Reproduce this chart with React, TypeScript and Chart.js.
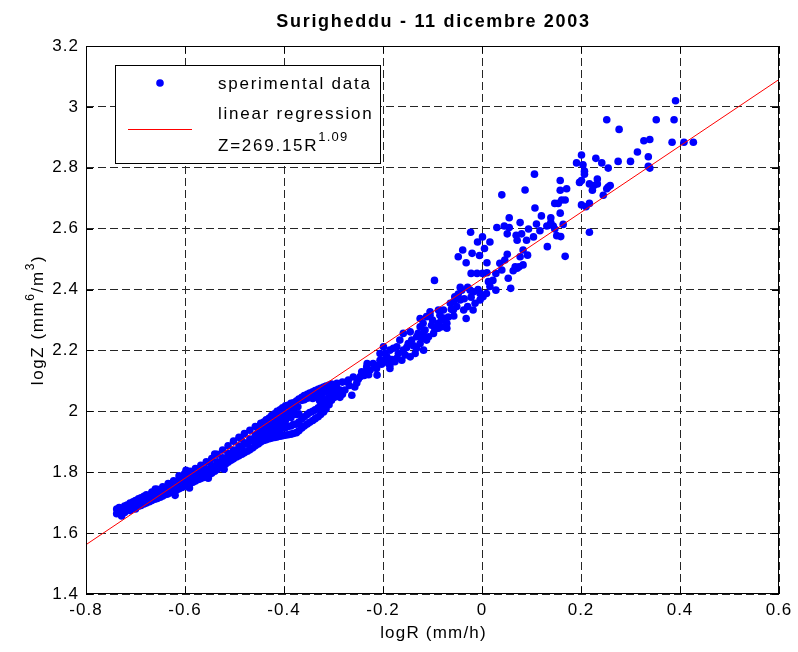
import React, { useEffect, useRef } from "react";
import { Chart, registerables } from "chart.js";

Chart.register(...registerables);

const TITLE = "Surigheddu - 11 dicembre 2003";
const X_LABEL = "logR (mm/h)";
const Y_LABEL_PARTS: [string, boolean][] = [
  ["logZ (mm", false],
  ["6", true],
  ["/m", false],
  ["3", true],
  [")", false],
];
const LEGEND_DATA = "sperimental data";
const LEGEND_REG = "linear regression";
const LEGEND_EQ = "Z=269.15R";
const LEGEND_EQ_EXP = "1.09";

const xTicks = [-0.8, -0.6, -0.4, -0.2, 0, 0.2, 0.4, 0.6];
const yTicks = [1.4, 1.6, 1.8, 2.0, 2.2, 2.4, 2.6, 2.8, 3.0, 3.2];

// [logR, logZ] — dense band at low rain rates
const band: [number, number][] = [
  [-0.738, 1.664], [-0.738, 1.679], [-0.733, 1.684], [-0.728, 1.656], [-0.728, 1.673],
  [-0.722, 1.668], [-0.722, 1.689], [-0.717, 1.678], [-0.717, 1.692], [-0.711, 1.674],
  [-0.711, 1.686], [-0.711, 1.699], [-0.705, 1.683], [-0.705, 1.703], [-0.7, 1.679],
  [-0.7, 1.692], [-0.7, 1.707], [-0.694, 1.688], [-0.694, 1.713], [-0.689, 1.691],
  [-0.689, 1.702], [-0.689, 1.716], [-0.683, 1.696], [-0.683, 1.721], [-0.678, 1.699],
  [-0.678, 1.709], [-0.678, 1.726], [-0.672, 1.703], [-0.672, 1.718], [-0.667, 1.707],
  [-0.667, 1.723], [-0.667, 1.735], [-0.661, 1.711], [-0.661, 1.729], [-0.656, 1.714],
  [-0.656, 1.726], [-0.656, 1.744], [-0.65, 1.718], [-0.65, 1.738], [-0.645, 1.722],
  [-0.645, 1.735], [-0.645, 1.752], [-0.639, 1.727], [-0.639, 1.745], [-0.634, 1.729],
  [-0.634, 1.741], [-0.634, 1.763], [-0.628, 1.734], [-0.628, 1.754], [-0.623, 1.737],
  [-0.623, 1.749], [-0.623, 1.772], [-0.62, 1.724], [-0.617, 1.742], [-0.617, 1.762],
  [-0.612, 1.746], [-0.612, 1.77], [-0.612, 1.788], [-0.606, 1.75], [-0.606, 1.766],
  [-0.601, 1.754], [-0.601, 1.777], [-0.601, 1.795], [-0.595, 1.758], [-0.595, 1.771],
  [-0.59, 1.762], [-0.59, 1.785], [-0.59, 1.803], [-0.584, 1.767], [-0.584, 1.781],
  [-0.579, 1.771], [-0.579, 1.794], [-0.579, 1.812], [-0.573, 1.776], [-0.573, 1.79],
  [-0.568, 1.779], [-0.568, 1.802], [-0.568, 1.823], [-0.562, 1.783], [-0.562, 1.798],
  [-0.557, 1.788], [-0.557, 1.811], [-0.557, 1.834], [-0.551, 1.792], [-0.551, 1.806],
  [-0.546, 1.797], [-0.546, 1.822], [-0.546, 1.845], [-0.54, 1.803], [-0.54, 1.818],
  [-0.535, 1.809], [-0.535, 1.834], [-0.535, 1.859], [-0.529, 1.815], [-0.529, 1.829],
  [-0.524, 1.821], [-0.524, 1.847], [-0.524, 1.873], [-0.518, 1.827], [-0.518, 1.842],
  [-0.513, 1.833], [-0.513, 1.861], [-0.513, 1.887], [-0.507, 1.839], [-0.507, 1.856],
  [-0.502, 1.844], [-0.502, 1.873], [-0.502, 1.902], [-0.496, 1.85], [-0.496, 1.869],
  [-0.491, 1.854], [-0.491, 1.886], [-0.491, 1.915], [-0.485, 1.859], [-0.485, 1.881],
  [-0.48, 1.864], [-0.48, 1.897], [-0.48, 1.927], [-0.474, 1.869], [-0.474, 1.892],
  [-0.469, 1.874], [-0.469, 1.909], [-0.469, 1.938], [-0.463, 1.88], [-0.463, 1.903],
  [-0.458, 1.887], [-0.458, 1.921], [-0.458, 1.95], [-0.452, 1.893], [-0.452, 1.905],
  [-0.452, 1.915], [-0.452, 1.935], [-0.452, 1.95], [-0.447, 1.899], [-0.447, 1.918],
  [-0.447, 1.932], [-0.447, 1.961], [-0.441, 1.904], [-0.441, 1.92], [-0.441, 1.945],
  [-0.441, 1.965], [-0.436, 1.907], [-0.436, 1.925], [-0.436, 1.944], [-0.436, 1.972],
  [-0.43, 1.91], [-0.43, 1.928], [-0.43, 1.958], [-0.43, 1.978], [-0.425, 1.912],
  [-0.425, 1.933], [-0.425, 1.956], [-0.425, 1.986], [-0.419, 1.914], [-0.419, 1.932],
  [-0.419, 1.949], [-0.419, 1.97], [-0.419, 1.992], [-0.414, 1.916], [-0.414, 1.94],
  [-0.414, 1.967], [-0.414, 2.0], [-0.408, 1.918], [-0.408, 1.938], [-0.408, 1.96],
  [-0.408, 1.982], [-0.408, 2.005], [-0.403, 1.92], [-0.403, 1.945], [-0.403, 1.978],
  [-0.403, 2.012], [-0.397, 1.922], [-0.397, 1.946], [-0.397, 1.97], [-0.397, 1.995],
  [-0.397, 2.018], [-0.392, 1.923], [-0.392, 1.95], [-0.392, 1.988], [-0.392, 2.02],
  [-0.386, 1.925], [-0.386, 1.952], [-0.386, 1.98], [-0.386, 2.005], [-0.386, 2.026],
  [-0.381, 1.927], [-0.381, 1.957], [-0.381, 1.99], [-0.381, 2.028], [-0.375, 1.93],
  [-0.375, 1.958], [-0.375, 1.99], [-0.375, 2.034], [-0.37, 1.936], [-0.37, 1.965],
  [-0.37, 1.992], [-0.37, 2.04], [-0.364, 1.945], [-0.364, 1.975], [-0.364, 2.036],
  [-0.364, 2.046], [-0.359, 1.952], [-0.359, 1.982], [-0.359, 2.038], [-0.359, 2.052],
  [-0.353, 1.958], [-0.353, 1.99], [-0.353, 2.043], [-0.353, 2.056], [-0.348, 1.964],
  [-0.348, 1.996], [-0.348, 2.046], [-0.348, 2.06], [-0.342, 1.97], [-0.342, 2.0],
  [-0.342, 2.042], [-0.342, 2.064], [-0.337, 1.976], [-0.337, 2.005], [-0.337, 2.046],
  [-0.337, 2.068], [-0.331, 1.982], [-0.331, 2.012], [-0.331, 2.052], [-0.331, 2.072],
  [-0.326, 1.99], [-0.326, 2.018], [-0.326, 2.058], [-0.326, 2.076], [-0.32, 1.998],
  [-0.32, 2.026], [-0.32, 2.062], [-0.32, 2.08], [-0.315, 2.008], [-0.315, 2.034],
  [-0.315, 2.066], [-0.315, 2.083], [-0.309, 2.022], [-0.309, 2.045], [-0.309, 2.07],
  [-0.309, 2.086], [-0.304, 2.036], [-0.304, 2.055], [-0.304, 2.074], [-0.304, 2.09],
  [-0.298, 2.046], [-0.298, 2.064], [-0.298, 2.08], [-0.293, 2.052], [-0.293, 2.075],
  [-0.293, 2.092], [-0.287, 2.046], [-0.287, 2.07], [-0.282, 2.056], [-0.282, 2.096],
  [-0.591, 1.748], [-0.553, 1.78], [-0.521, 1.81], [-0.66, 1.745], [-0.598, 1.806],
  [-0.54, 1.86], [-0.487, 1.91], [-0.378, 2.012], [-0.372, 2.015], [-0.328, 2.035],
  [-0.322, 2.044], [-0.444, 1.952], [-0.433, 1.968], [-0.422, 1.942], [-0.411, 1.99],
  [-0.4, 1.96],
];

// [logR, logZ] — middle range, mostly below the regression line
const middle: [number, number][] = [
  [-0.294, 2.059], [-0.277, 2.07], [-0.273, 2.097], [-0.27, 2.103], [-0.268, 2.085],
  [-0.263, 2.053], [-0.26, 2.113], [-0.257, 2.08], [-0.253, 2.093], [-0.25, 2.105],
  [-0.246, 2.114], [-0.243, 2.13], [-0.238, 2.118], [-0.233, 2.146], [-0.233, 2.125],
  [-0.232, 2.157], [-0.229, 2.12], [-0.226, 2.136], [-0.22, 2.157], [-0.216, 2.15],
  [-0.213, 2.141], [-0.212, 2.119], [-0.206, 2.168], [-0.206, 2.19], [-0.203, 2.155],
  [-0.199, 2.212], [-0.199, 2.168], [-0.196, 2.19], [-0.192, 2.179], [-0.189, 2.157],
  [-0.186, 2.201], [-0.186, 2.152], [-0.186, 2.141], [-0.182, 2.17], [-0.179, 2.207],
  [-0.176, 2.163], [-0.172, 2.212], [-0.172, 2.174], [-0.169, 2.19], [-0.166, 2.234],
  [-0.162, 2.168], [-0.159, 2.201], [-0.159, 2.256], [-0.155, 2.185], [-0.152, 2.21],
  [-0.149, 2.223], [-0.145, 2.179], [-0.145, 2.261], [-0.142, 2.234], [-0.138, 2.215],
  [-0.135, 2.19], [-0.132, 2.207], [-0.132, 2.245], [-0.129, 2.256], [-0.125, 2.223],
  [-0.125, 2.278], [-0.125, 2.305], [-0.122, 2.24], [-0.118, 2.201], [-0.119, 2.256],
  [-0.119, 2.289], [-0.115, 2.267], [-0.112, 2.234], [-0.112, 2.311], [-0.108, 2.245],
  [-0.105, 2.327], [-0.105, 2.316], [-0.102, 2.283], [-0.1, 2.3], [-0.098, 2.256],
  [-0.096, 2.43], [-0.095, 2.27], [-0.092, 2.278], [-0.088, 2.273], [-0.088, 2.289],
  [-0.088, 2.333], [-0.085, 2.316], [-0.082, 2.3], [-0.081, 2.278], [-0.078, 2.333],
  [-0.078, 2.306], [-0.071, 2.273], [-0.071, 2.289], [-0.068, 2.31], [-0.064, 2.355],
  [-0.062, 2.335], [-0.058, 2.333], [-0.057, 2.36], [-0.057, 2.313], [-0.055, 2.376],
  [-0.051, 2.344], [-0.048, 2.385], [-0.044, 2.407], [-0.044, 2.366], [-0.041, 2.398],
  [-0.037, 2.333], [-0.036, 2.37], [-0.032, 2.305], [-0.029, 2.407], [-0.029, 2.344],
  [-0.024, 2.398], [-0.022, 2.375], [-0.018, 2.333], [-0.017, 2.393], [-0.014, 2.355],
  [-0.008, 2.4], [-0.004, 2.387], [-0.004, 2.366], [0.002, 2.376], [0.009, 2.387],
  [0.016, 2.41], [0.022, 2.43],
];

// [logR, logZ] — scattered above the line around logR = 0
const upper: [number, number][] = [
  [-0.048, 2.508], [-0.039, 2.53], [-0.032, 2.488], [-0.023, 2.588], [-0.022, 2.453],
  [-0.02, 2.519], [-0.01, 2.453], [-0.009, 2.556], [-0.005, 2.512], [0.001, 2.573],
  [0.001, 2.453], [0.005, 2.535], [0.01, 2.488], [0.01, 2.455], [0.013, 2.426],
  [0.016, 2.556], [0.028, 2.453], [0.028, 2.398], [0.03, 2.604], [0.036, 2.486],
  [0.04, 2.464], [0.04, 2.711], [0.045, 2.609], [0.046, 2.497], [0.051, 2.583],
  [0.051, 2.516], [0.053, 2.437], [0.055, 2.636], [0.055, 2.604], [0.058, 2.404],
  [0.063, 2.462], [0.067, 2.475], [0.069, 2.578], [0.071, 2.562], [0.071, 2.47],
  [0.075, 2.475], [0.077, 2.62], [0.077, 2.508], [0.08, 2.583], [0.083, 2.53],
  [0.083, 2.481], [0.087, 2.727], [0.09, 2.562], [0.092, 2.513], [0.094, 2.599],
  [0.104, 2.573], [0.106, 2.779], [0.107, 2.668], [0.11, 2.615], [0.117, 2.593],
  [0.12, 2.642], [0.131, 2.609], [0.132, 2.541], [0.139, 2.636], [0.144, 2.609],
  [0.168, 2.509],
];

// [logR, logZ] — highest rain rates
const top: [number, number][] = [
  [0.391, 3.02], [0.252, 2.958], [0.352, 2.958], [0.388, 2.958], [0.277, 2.926],
  [0.327, 2.889], [0.339, 2.893], [0.384, 2.884], [0.408, 2.884], [0.427, 2.884],
  [0.314, 2.852], [0.336, 2.836], [0.275, 2.821], [0.3, 2.821], [0.23, 2.831],
  [0.242, 2.816], [0.255, 2.799], [0.201, 2.842], [0.191, 2.816], [0.204, 2.81],
  [0.207, 2.789], [0.207, 2.779], [0.336, 2.805], [0.339, 2.799], [0.197, 2.752],
  [0.201, 2.758], [0.217, 2.747], [0.233, 2.763], [0.233, 2.747], [0.223, 2.726],
  [0.226, 2.742], [0.255, 2.737], [0.259, 2.742], [0.252, 2.731], [0.245, 2.71],
  [0.158, 2.758], [0.158, 2.726], [0.171, 2.731], [0.147, 2.683], [0.154, 2.683],
  [0.161, 2.694], [0.168, 2.694], [0.158, 2.651], [0.201, 2.678], [0.21, 2.672],
  [0.217, 2.683], [0.139, 2.62], [0.164, 2.614], [0.147, 2.599], [0.151, 2.577],
  [0.159, 2.574], [0.217, 2.588],
];

// regression line end points (logZ = log10(269.15) + 1.09 logR)
const regR = [-0.8, 0.6];
const regZ = [1.562, 3.09];

const FONT = '"Liberation Sans", Arial, Helvetica, sans-serif';
const BLUE = "#0000ff";
const RED = "#ff0000";
const GRID = "#262626";

const fmt = (v: number) => String(Math.round(v * 10) / 10);

const decorPlugin = {
  id: "decor",
  beforeDraw(chart: any) {
    const ctx = chart.ctx;
    ctx.save();
    ctx.fillStyle = "#ffffff";
    ctx.fillRect(0, 0, chart.width, chart.height);
    ctx.restore();
    ctx.letterSpacing = "1px";
  },
  afterDraw(chart: any) {
    const ctx = chart.ctx as CanvasRenderingContext2D;
    const a = chart.chartArea;
    const xs = chart.scales.x;
    const ys = chart.scales.y;
    ctx.save();
    ctx.strokeStyle = "#000";
    ctx.lineWidth = 1;
    ctx.setLineDash([]);
    ctx.strokeRect(Math.round(a.left) + 0.5, Math.round(a.top) + 0.5, Math.round(a.right - a.left) - 1, Math.round(a.bottom - a.top) - 1);
    const TL = 7;
    ctx.beginPath();
    xTicks.forEach((v) => {
      const p = Math.round(xs.getPixelForValue(v)) + 0.5;
      ctx.moveTo(p, a.bottom);
      ctx.lineTo(p, a.bottom - TL);
      ctx.moveTo(p, a.top);
      ctx.lineTo(p, a.top + TL);
    });
    yTicks.forEach((v) => {
      const p = Math.round(ys.getPixelForValue(v)) + 0.5;
      ctx.moveTo(a.left, p);
      ctx.lineTo(a.left + TL, p);
      ctx.moveTo(a.right, p);
      ctx.lineTo(a.right - TL, p);
    });
    ctx.stroke();

    const cx = (a.left + a.right) / 2;
    const cy = (a.top + a.bottom) / 2;
    ctx.fillStyle = "#000";
    ctx.textBaseline = "middle";

    ctx.font = `bold 18px ${FONT}`;
    (ctx as any).letterSpacing = "1.7px";
    ctx.textAlign = "center";
    ctx.fillText(TITLE, cx + 1, a.top - 24);

    ctx.font = `17px ${FONT}`;
    (ctx as any).letterSpacing = "1.2px";
    ctx.fillText(X_LABEL, cx + 1, a.bottom + 39);

    ctx.save();
    ctx.translate(a.left - 48, cy);
    ctx.rotate(-Math.PI / 2);
    ctx.textAlign = "left";
    (ctx as any).letterSpacing = "1.6px";
    const normal = `17px ${FONT}`;
    const sup = `12px ${FONT}`;
    let total = 0;
    Y_LABEL_PARTS.forEach(([t, s]) => {
      ctx.font = s ? sup : normal;
      total += ctx.measureText(t).width;
    });
    let xx = -total / 2;
    Y_LABEL_PARTS.forEach(([t, s]) => {
      ctx.font = s ? sup : normal;
      ctx.fillText(t, xx, s ? -7 : 0);
      xx += ctx.measureText(t).width;
    });
    ctx.restore();

    const lx = a.left + 29;
    const ly = a.top + 19;
    const lw = 266;
    const lh = 99;
    ctx.fillStyle = "#fff";
    ctx.fillRect(lx, ly, lw, lh);
    ctx.strokeStyle = "#000";
    ctx.lineWidth = 1;
    ctx.strokeRect(lx + 0.5, ly + 0.5, lw - 1, lh - 1);
    ctx.fillStyle = BLUE;
    ctx.beginPath();
    ctx.arc(lx + 45, ly + 18, 3.8, 0, Math.PI * 2);
    ctx.fill();
    ctx.strokeStyle = RED;
    ctx.beginPath();
    ctx.moveTo(lx + 13, ly + 64.5);
    ctx.lineTo(lx + 77, ly + 64.5);
    ctx.stroke();
    ctx.fillStyle = "#000";
    ctx.textAlign = "left";
    ctx.font = `17px ${FONT}`;
    (ctx as any).letterSpacing = "1.75px";
    const tx = lx + 103;
    ctx.fillText(LEGEND_DATA, tx, ly + 19);
    ctx.fillText(LEGEND_REG, tx, ly + 49);
    ctx.fillText(LEGEND_EQ, tx, ly + 81);
    const w = ctx.measureText(LEGEND_EQ).width;
    ctx.font = `13px ${FONT}`;
    (ctx as any).letterSpacing = "1.2px";
    ctx.fillText(LEGEND_EQ_EXP, tx + w, ly + 72);
    ctx.restore();
  },
};

export default function App() {
  const ref = useRef<HTMLCanvasElement | null>(null);
  useEffect(() => {
    if (!ref.current) return;
    const points = [...band, ...middle, ...upper, ...top].map(([r, z]) => ({ x: r, y: z }));
    const line = regR.map((r, i) => ({ x: r, y: regZ[i] }));
    const chart = new Chart(ref.current, {
      type: "scatter",
      data: {
        datasets: [
          {
            label: LEGEND_REG,
            data: line,
            showLine: true,
            borderColor: RED,
            borderWidth: 1,
            pointRadius: 0,
            order: 0,
          } as any,
          {
            label: LEGEND_DATA,
            data: points,
            backgroundColor: BLUE,
            borderWidth: 0,
            pointRadius: 3.8,
            pointHoverRadius: 3.8,
            order: 1,
          },
        ],
      },
      options: {
        animation: false,
        responsive: false,
        devicePixelRatio: 1,
        events: [],
        layout: { padding: { top: 46, right: 19, left: 0, bottom: 0 } },
        plugins: {
          legend: { display: false },
          title: { display: false },
          tooltip: { enabled: false },
        },
        scales: {
          x: {
            type: "linear",
            min: -0.8,
            max: 0.6,
            afterBuildTicks: (s: any) => {
              s.ticks = xTicks.map((v) => ({ value: v }));
            },
            afterFit: (s: any) => {
              s.height = 58;
            },
            ticks: {
              color: "#000",
              font: { family: FONT, size: 17 },
              padding: 6,
              maxRotation: 0,
              autoSkip: false,
              callback: (v: any) => fmt(Number(v)),
            },
            grid: { color: GRID, lineWidth: 1, drawTicks: false },
            border: { display: false, dash: [8, 4] },
          },
          y: {
            type: "linear",
            min: 1.4,
            max: 3.2,
            afterBuildTicks: (s: any) => {
              s.ticks = yTicks.map((v) => ({ value: v }));
            },
            afterFit: (s: any) => {
              s.width = 86;
            },
            ticks: {
              color: "#000",
              font: { family: FONT, size: 17 },
              padding: 7,
              autoSkip: false,
              callback: (v: any) => fmt(Number(v)),
            },
            grid: { color: GRID, lineWidth: 1, drawTicks: false },
            border: { display: false, dash: [8, 4] },
          },
        },
      },
      plugins: [decorPlugin],
    });
    return () => chart.destroy();
  }, []);
  return (
    <div style={{ position: "fixed", left: 0, top: 0, width: 798, height: 652, background: "#fff" }}>
      <canvas ref={ref} width={798} height={652} style={{ display: "block" }} />
    </div>
  );
}
